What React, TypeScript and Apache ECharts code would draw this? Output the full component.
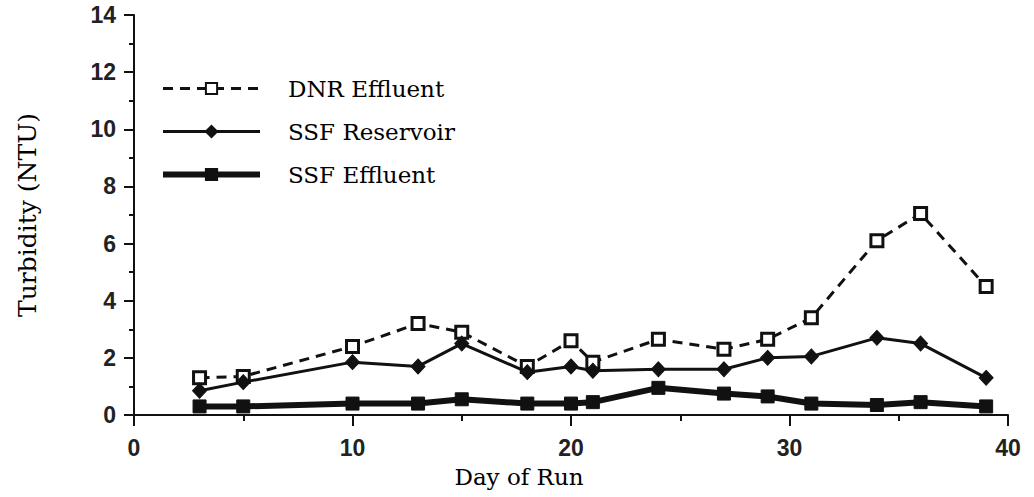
import React, { useEffect, useRef } from "react";
import * as echarts from "echarts";

const days = [3, 5, 10, 13, 15, 18, 20, 21, 24, 27, 29, 31, 34, 36, 39];
const dnrEffluent = [1.3, 1.35, 2.4, 3.2, 2.9, 1.7, 2.6, 1.85, 2.65, 2.3, 2.65, 3.4, 6.1, 7.05, 4.5];
const ssfReservoir = [0.85, 1.15, 1.85, 1.7, 2.5, 1.5, 1.7, 1.55, 1.6, 1.6, 2.0, 2.05, 2.7, 2.5, 1.3];
const ssfEffluent = [0.3, 0.3, 0.4, 0.4, 0.55, 0.4, 0.4, 0.45, 0.95, 0.75, 0.65, 0.4, 0.35, 0.45, 0.3];
const seriesNames = ["DNR Effluent", "SSF Reservoir", "SSF Effluent"];

const INK = "#111111";
const SERIF = "'DejaVu Serif', 'Liberation Serif', serif";
const SANS = "'Liberation Sans', Arial, sans-serif";

const pairs = (vals: number[]) => days.map((d, i) => [d, vals[i]]);

export default function App() {
  const ref = useRef<HTMLDivElement>(null);
  useEffect(() => {
    if (!ref.current) return;
    const chart = echarts.init(ref.current, null, { renderer: "svg" });
    chart.setOption({
      animation: false,
      backgroundColor: "#ffffff",
      grid: { left: 134, right: 26, top: 15, bottom: 82 },
      legend: {
        orient: "vertical",
        left: 155,
        top: 72,
        itemWidth: 97,
        itemHeight: 14,
        itemGap: 20,
        data: [
          { name: seriesNames[0], lineStyle: { width: 3, type: [10, 7], color: INK } },
          { name: seriesNames[1], lineStyle: { width: 3, color: INK } },
          { name: seriesNames[2], lineStyle: { width: 6, color: INK } },
        ],
        textStyle: { fontFamily: SERIF, fontSize: 23, color: "#000", padding: [0, 0, 0, 23] },
      },
      xAxis: {
        type: "value",
        min: 0,
        max: 40,
        interval: 10,
        name: "Day of Run",
        nameLocation: "middle",
        nameGap: 50,
        nameTextStyle: { fontFamily: SERIF, fontSize: 23, color: "#000", padding: [0, 104, 0, 0] },
        axisLine: { lineStyle: { color: INK, width: 2 } },
        axisTick: { show: true, inside: false, length: 11, lineStyle: { color: INK, width: 2 } },
        minorTick: { show: true, splitNumber: 2, length: 6, lineStyle: { color: INK, width: 2 } },
        splitLine: { show: false },
        axisLabel: { fontFamily: SANS, fontSize: 23, fontWeight: "bold", color: "#222", margin: 21 },
      },
      yAxis: {
        type: "value",
        min: 0,
        max: 14,
        interval: 2,
        name: "Turbidity (NTU)",
        nameLocation: "middle",
        nameGap: 94,
        nameRotate: 90,
        nameTextStyle: { fontFamily: SERIF, fontSize: 25, color: "#000" },
        axisLine: { show: true, lineStyle: { color: INK, width: 2 } },
        axisTick: { show: true, inside: false, length: 10, lineStyle: { color: INK, width: 2 } },
        minorTick: { show: true, splitNumber: 2, length: 5, lineStyle: { color: INK, width: 2 } },
        splitLine: { show: false },
        axisLabel: { fontFamily: SANS, fontSize: 23, fontWeight: "bold", color: "#222", margin: 18 },
      },
      series: [
        {
          name: seriesNames[0],
          type: "line",
          data: pairs(dnrEffluent),
          symbol: "rect",
          symbolSize: 12,
          lineStyle: { color: INK, width: 3, type: [10, 7] },
          itemStyle: { color: "#ffffff", borderColor: INK, borderWidth: 3 },
          z: 3,
        },
        {
          name: seriesNames[1],
          type: "line",
          data: pairs(ssfReservoir),
          symbol: "diamond",
          symbolSize: [14, 15],
          lineStyle: { color: INK, width: 3 },
          itemStyle: { color: INK, borderColor: INK, borderWidth: 1 },
          z: 4,
        },
        {
          name: seriesNames[2],
          type: "line",
          data: pairs(ssfEffluent),
          symbol: "rect",
          symbolSize: 13,
          lineStyle: { color: INK, width: 6 },
          itemStyle: { color: INK, borderColor: INK, borderWidth: 1 },
          z: 5,
        },
      ],
    });
    return () => chart.dispose();
  }, []);
  return (
    <div
      ref={ref}
      style={{ position: "absolute", left: 0, top: 0, width: 1034, height: 497, background: "#fff" }}
    />
  );
}
